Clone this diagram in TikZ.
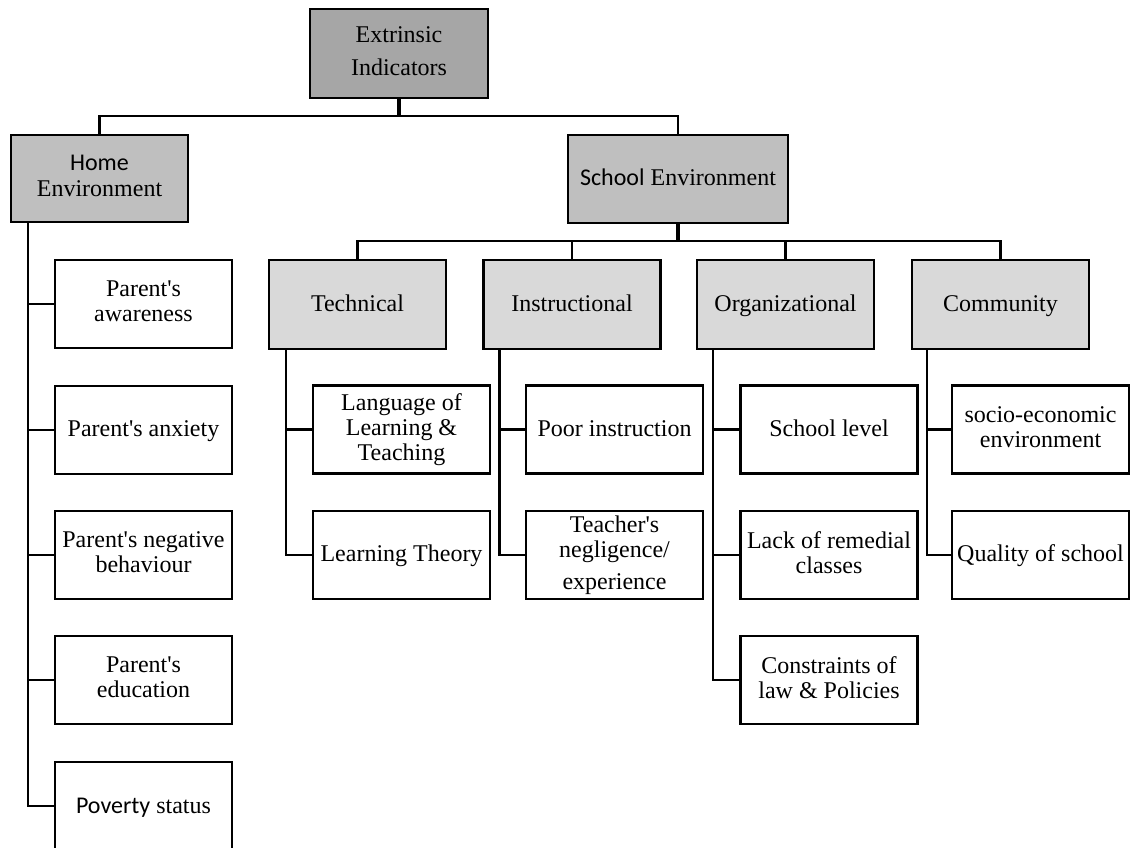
\documentclass[tikz,border=0pt]{standalone}
\usepackage{fontspec}
% plain families, so that ' stays a straight apostrophe
\newfontfamily\timesfont{Liberation Serif}
\newfontfamily\calibrifont{Carlito}
\definecolor{topgray}{HTML}{A6A6A6}
\definecolor{envgray}{HTML}{BFBFBF}
\definecolor{subgray}{HTML}{D9D9D9}
% strut that keeps the first and last lines of each box evenly placed
\newcommand\boxstrut{\rule[-3.75pt]{0pt}{18pt}}
\begin{document}
\begin{tikzpicture}[x=0.75pt,y=-0.75pt,
  box/.style={draw=black,line width=1.7pt,align=center,inner sep=0pt,
    font=\timesfont\fontsize{18}{18.75}\selectfont,
    execute at begin node=\boxstrut, execute at end node=\boxstrut},
  leaf/.style={box,fill=white,minimum width=132.75pt,minimum height=66pt},
  subbox/.style={box,fill=subgray,minimum width=132.75pt,minimum height=66.75pt},
  envbox/.style={box,fill=envgray,minimum height=65.75pt},
  topbox/.style={box,fill=topgray,minimum width=133.5pt,minimum height=66.75pt},
  link/.style={line width=1.7pt},
  stub/.style={line width=2.4pt}]
\clip (0,0) rectangle (1130,848);
\path[use as bounding box] (0,0) rectangle (1130,848);

% root and the two environments
\node[topbox] (ext) at (399,53.5) {Extrinsic\\[6pt]Indicators};
\node[envbox,minimum width=132.75pt] (home) at (99.5,178.5) {{\calibrifont Home}\\[0.75pt]Environment};
\node[envbox,minimum width=165pt] (school) at (678,179) {{\calibrifont School} Environment};

% school sub-categories
\node[subbox] (tech)  at (357.5,304.5) {Technical};
\node[subbox] (instr) at (572,304.5) {Instructional};
\node[subbox] (org)   at (785.5,304.5) {Organizational};
\node[subbox] (comm)  at (1000.5,304.5) {Community};

% home environment leaves
\node[leaf] (aw)  at (143.5,304) {Parent's\\awareness};
\node[leaf] (anx) at (143.5,430) {Parent's anxiety};
\node[leaf] (neg) at (143.5,555) {Parent's negative\\behaviour};
\node[leaf] (edu) at (143.5,680) {Parent's\\education};
\node[leaf] (pov) at (143.5,806) {{\calibrifont Poverty} status};

% technical leaves
\node[leaf] (lang) at (401.5,429.5) {Language of\\Learning \&\\Teaching};
\node[leaf] (lth)  at (401.5,555) {Learning Theory};

% instructional leaves
\node[leaf] (poor)  at (614.5,429.5) {Poor instruction};
\node[leaf] (teach) at (614.5,555) {Teacher's\\negligence/\\[5.25pt]experience};

% organizational leaves
\node[leaf] (slev) at (829,429.5) {School level};
\node[leaf] (rem)  at (829,555) {Lack of remedial\\classes};
\node[leaf] (cons) at (829,680) {Constraints of\\law \& Policies};

% community leaves
\node[leaf] (socio) at (1040.5,429.5) {socio-economic\\environment};
\node[leaf] (qual)  at (1040.5,555) {Quality of school};

% upper tree
\coordinate (j1) at (ext.south |- 0,116);
\draw[stub] (ext.south) -- (j1);
\draw[link] (home.north) |- (j1) -| (school.north);

\coordinate (j2) at (school.south |- 0,241);
\draw[stub] (school.south) -- (j2);
\draw[link] (tech.north) |- (j2) -| (comm.north);
\draw[link] (instr.north) -- (instr.north |- j2);
\draw[link] (org.north) -- (org.north |- j2);

% trunks with side branches
\coordinate (hx) at ([xshift=13.5pt]home.south west);
\draw[link] (hx) |- (pov.west);
\foreach \n in {aw,anx,neg,edu} \draw[link] (\n.west) -- (\n.west -| hx);

\coordinate (tx) at ([xshift=13.5pt]tech.south west);
\draw[link] (tx) |- (lth.west);
\draw[link] (lang.west) -- (lang.west -| tx);

\coordinate (ix) at ([xshift=12.75pt]instr.south west);
\draw[link] (ix) |- (teach.west);
\draw[link] (poor.west) -- (poor.west -| ix);

\coordinate (ox) at ([xshift=12.75pt]org.south west);
\draw[link] (ox) |- (cons.west);
\foreach \n in {slev,rem} \draw[link] (\n.west) -- (\n.west -| ox);

\coordinate (cx) at ([xshift=12pt]comm.south west);
\draw[link] (cx) |- (qual.west);
\draw[link] (socio.west) -- (socio.west -| cx);
\end{tikzpicture}
\end{document}
